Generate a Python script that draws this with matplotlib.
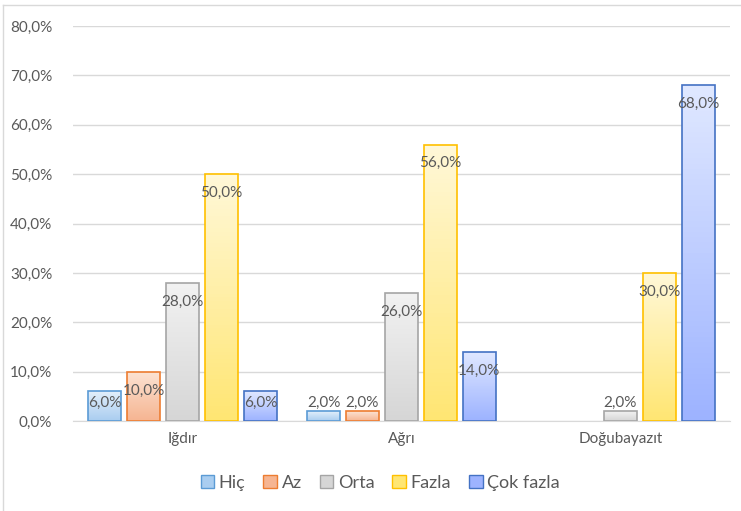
import matplotlib as mpl
import numpy as np
from matplotlib.colors import LinearSegmentedColormap
from matplotlib.lines import Line2D
from matplotlib.patches import Patch

mpl.use("Agg")
import matplotlib.pyplot as plt

plt.rcParams["font.family"] = ["Lato", "DejaVu Sans"]

cities = ["Iğdır", "Ağrı", "Doğubayazıt"]
levels = ["Hiç", "Az", "Orta", "Fazla", "Çok fazla"]
values = {
    "Hiç": [6.0, 2.0, 0.0],
    "Az": [10.0, 2.0, 0.0],
    "Orta": [28.0, 26.0, 2.0],
    "Fazla": [50.0, 56.0, 30.0],
    "Çok fazla": [6.0, 14.0, 68.0],
}
y_ticks = [0, 10, 20, 30, 40, 50, 60, 70, 80]

# (edge, top of gradient, bottom of gradient)
styles = {
    "Hiç": ("#5B9BD5", "#E3EFFB", "#A9CDF0"),
    "Az": ("#ED7D31", "#FCE3D3", "#F6B592"),
    "Orta": ("#A5A5A5", "#F2F2F2", "#D6D6D6"),
    "Fazla": ("#FFC000", "#FFF8D8", "#FFE673"),
    "Çok fazla": ("#4472C4", "#E0E8FF", "#9DB3FF"),
}
text_col = "#595959"

fig = plt.figure(figsize=(7.41, 5.11), dpi=100)
ax = fig.add_axes([0.0985, 0.176, 0.8865, 0.773])

x = np.arange(len(cities))
step = 0.178
width = 0.15
grad = np.linspace(0, 1, 64).reshape(-1, 1)

for i, lvl in enumerate(levels):
    edge, top, bottom = styles[lvl]
    cmap = LinearSegmentedColormap.from_list(lvl, [top, bottom])
    pos = x + (i - 2) * step
    bars = ax.bar(pos, values[lvl], width, facecolor="none", edgecolor=edge,
                  linewidth=1.2, zorder=3)
    for b, v in zip(bars, values[lvl]):
        if v <= 0:
            b.set_visible(False)
            continue
        x0, y0 = b.get_x(), b.get_y()
        im = ax.imshow(grad, cmap=cmap, aspect="auto", origin="upper",
                       extent=[x0, x0 + b.get_width(), y0, y0 + b.get_height()],
                       zorder=2)
        im.set_clip_path(b)
        ax.text(b.get_x() + b.get_width() / 2, max(v - 3.8, 3.6),
                f"{v:.1f}%".replace(".", ","), ha="center", va="center",
                fontsize=11, color=text_col, zorder=5)

ax.set_xlim(-0.5, 2.5)
ax.set_ylim(0, 80)
ax.set_yticks(y_ticks)
ax.set_yticklabels([f"{t:.1f}%".replace(".", ",") for t in y_ticks])
ax.set_xticks(x)
ax.set_xticklabels(cities)
ax.tick_params(length=0, labelsize=11, colors=text_col, pad=8)
ax.tick_params(axis="y", pad=15)
ax.grid(axis="y", color="#D9D9D9", linewidth=1, zorder=0)
for s in ["top", "right", "left"]:
    ax.spines[s].set_visible(False)
ax.spines["bottom"].set_color("#D9D9D9")

handles = [Patch(facecolor=styles[l][2], edgecolor=styles[l][0], label=l)
           for l in levels]
fig.legend(handles=handles, loc="center", bbox_to_anchor=(0.513, 0.055),
           ncol=5, frameon=False, fontsize=13, labelcolor=text_col,
           handlelength=0.75, handleheight=0.75, handletextpad=0.25,
           columnspacing=1.0)

# thin chart border (top and left visible in the reference)
fig.add_artist(Line2D([0.004, 0.004], [0, 0.99], transform=fig.transFigure,
                      color="#D9D9D9", linewidth=1))
fig.add_artist(Line2D([0.004, 1], [0.99, 0.99], transform=fig.transFigure,
                      color="#D9D9D9", linewidth=1))

fig.savefig("out.png", dpi=100)
